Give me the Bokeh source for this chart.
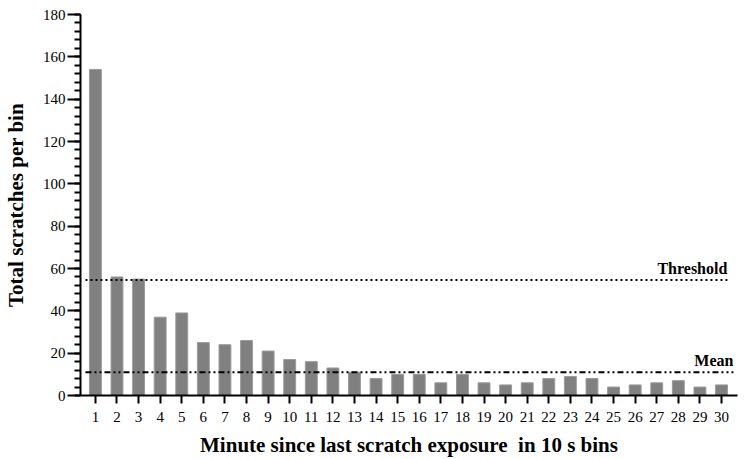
from bokeh.plotting import figure
from bokeh.models import FixedTicker, SingleIntervalTicker, Range1d, Label
from bokeh.embed import file_html
from bokeh.resources import INLINE

bins = list(range(1, 31))
scratches = [154, 56, 55, 37, 39, 25, 24, 26, 21, 17, 16, 13, 11, 8, 10,
             10, 6, 10, 6, 5, 6, 8, 9, 8, 4, 5, 6, 7, 4, 5]
threshold = 54.6
mean_level = 11.0
x_tick_labels = [str(b) for b in bins]

FONT = "Liberation Serif"

p = figure(width=740, height=459, output_backend="svg", toolbar_location=None,
           x_range=Range1d(0.31, 30.74), y_range=Range1d(0, 180),
           min_border_left=78, min_border_right=3, min_border_top=14, min_border_bottom=64)
p.outline_line_color = None
p.xgrid.visible = False
p.ygrid.visible = False
p.background_fill_color = "white"

p.vbar(x=bins, top=scratches, width=0.55, fill_color="#808080", line_color="#9a9a9a", line_width=1)

p.segment(x0=[0.54], y0=[threshold], x1=[30.27], y1=[threshold],
          line_color="black", line_width=2, line_dash="2 3")
p.segment(x0=[0.54], y0=[mean_level], x1=[30.55], y1=[mean_level],
          line_color="black", line_width=2, line_dash="6 3 2 3 2 3")

p.add_layout(Label(x=30.27, y=threshold + 1.5, text="Threshold", text_align="right",
                   text_baseline="bottom", text_font=FONT, text_font_style="bold",
                   text_font_size="16px", text_color="black"))
p.add_layout(Label(x=30.55, y=mean_level + 1.5, text="Mean", text_align="right",
                   text_baseline="bottom", text_font=FONT, text_font_style="bold",
                   text_font_size="16px", text_color="black"))

xa = p.xaxis[0]
xa.ticker = FixedTicker(ticks=bins)
xa.major_label_overrides = {b: l for b, l in zip(bins, x_tick_labels)}
xa.major_tick_out = 8
xa.major_tick_in = 0
xa.minor_tick_out = 0
xa.minor_tick_in = 0
xa.axis_line_width = 2
xa.major_tick_line_width = 2
xa.major_label_text_font = FONT
xa.major_label_text_font_size = "15px"
xa.major_label_text_color = "black"
xa.major_label_standoff = 8
xa.axis_label = "Minute since last scratch exposure \u00a0in 10 s bins"
xa.axis_label_text_font = FONT
xa.axis_label_text_font_style = "bold"
xa.axis_label_text_font_size = "21px"
xa.axis_label_text_color = "black"
xa.axis_label_standoff = 8

ya = p.yaxis[0]
ya.ticker = SingleIntervalTicker(interval=20, num_minor_ticks=5)
ya.major_tick_out = 13
ya.major_tick_in = 0
ya.minor_tick_out = 6
ya.minor_tick_in = 0
ya.axis_line_width = 2
ya.major_tick_line_width = 2
ya.minor_tick_line_width = 2
ya.major_label_text_font = FONT
ya.major_label_text_font_size = "15px"
ya.major_label_text_color = "black"
ya.major_label_standoff = 2
ya.axis_label = "Total scratches per bin"
ya.axis_label_text_font = FONT
ya.axis_label_text_font_style = "bold"
ya.axis_label_text_font_size = "21px"
ya.axis_label_text_color = "black"
ya.axis_label_standoff = 12

open("out.html", "w").write(file_html(p, INLINE))
